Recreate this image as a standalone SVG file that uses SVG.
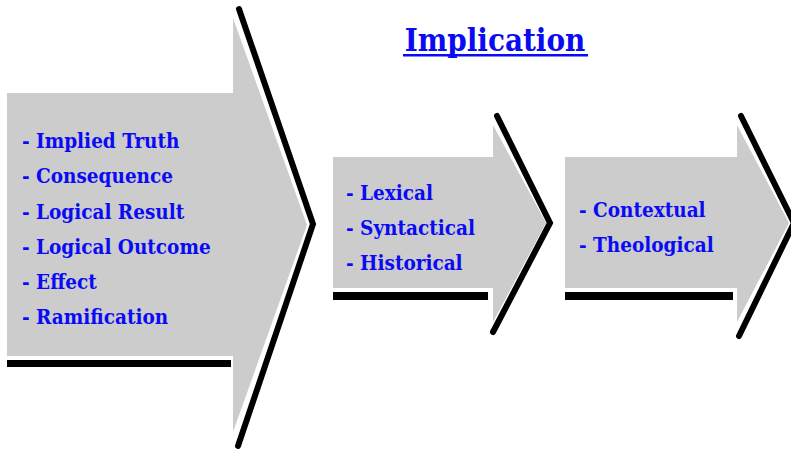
<svg xmlns="http://www.w3.org/2000/svg" width="791" height="452" viewBox="0 0 791 452">
<style>
.body{fill:#cccccc;stroke:none}
.shadow{fill:none;stroke:#000;stroke-width:6;stroke-linejoin:miter;stroke-linecap:round}
.bar{fill:#000}
.item{font-family:"DejaVu Serif Condensed","DejaVu Serif",serif;font-stretch:condensed;font-weight:bold;font-size:20.5px;fill:#0a0af5}
.title{font-family:"DejaVu Serif Condensed","DejaVu Serif",serif;font-stretch:condensed;font-weight:bold;font-size:31px;fill:#0a0af5}
</style>
<rect width="791" height="452" fill="#fff"/>
<g id="title">
<text class="title" x="495" y="51" text-anchor="middle">Implication</text>
<rect x="403" y="54" width="185" height="2.5" fill="#0a0af5"/>
</g>
<g id="arrow-implication">
<polyline class="shadow" points="239,9 313,224 238,446"/>
<rect class="bar" x="7" y="360" width="224" height="7"/>
<polygon class="body" points="7,93 233,93 233,18 307,225 233,432 233,356 7,356"/>
<text class="item" x="22" y="148">- Implied Truth</text>
<text class="item" x="22" y="183">- Consequence</text>
<text class="item" x="22" y="219">- Logical Result</text>
<text class="item" x="22" y="254">- Logical Outcome</text>
<text class="item" x="22" y="289">- Effect</text>
<text class="item" x="22" y="324">- Ramification</text>
</g>
<g id="arrow-grammatical">
<polyline class="shadow" points="497,116 550,223 493,332"/>
<rect class="bar" x="333" y="292" width="155" height="8"/>
<polygon class="body" points="333,157 493,157 493,125 546,223 493,322 493,288 333,288"/>
<text class="item" x="346" y="200">- Lexical</text>
<text class="item" x="346" y="235">- Syntactical</text>
<text class="item" x="346" y="270">- Historical</text>
</g>
<g id="arrow-contextual">
<polyline class="shadow" points="741,116 794,223 739,336"/>
<rect class="bar" x="565" y="292" width="168" height="8"/>
<polygon class="body" points="565,157 737,157 737,125 789,223 737,322 737,288 565,288"/>
<text class="item" x="579" y="217">- Contextual</text>
<text class="item" x="579" y="252">- Theological</text>
</g>
</svg>
